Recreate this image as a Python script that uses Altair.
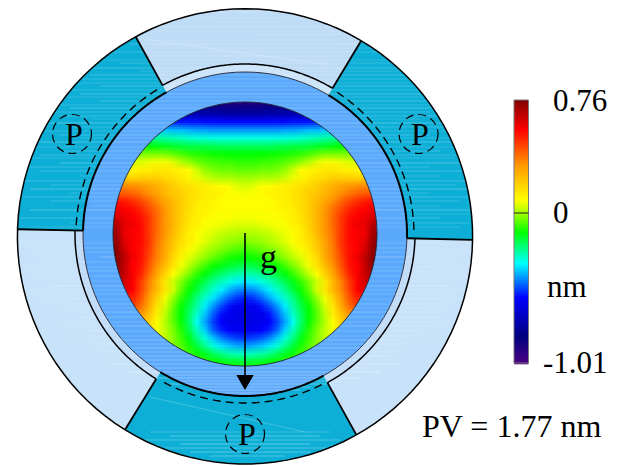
import altair as alt
import numpy as np
import pandas as pd

CX, CY = 245, 234
R_OUT, R_BAND, R_RING, R_MAP = 227.6, 170, 162, 132
CY_OUT = 236.4
LIGHT_TOP, LIGHT_LOW, TEAL, RING_BLUE = "#bfdcf7", "#c8e2fa", "#0dafd7", "#5aa9fc"

# wavefront height (nm), one row per image line, centre column outward (picture is close to mirror symmetric)
MAP_ROWS_Y = list(range(98, 371, 8))
MAP_ROWS = [
 [-1.0,-1.0,-1.0,-1.0],
 [-.88,-.88,-.87,-.87,-.86,-.86,-.85,-.85],
 [-.74,-.74,-.74,-.73,-.73,-.72,-.72,-.71,-.71,-.70],
 [-.56,-.56,-.56,-.56,-.56,-.56,-.55,-.55,-.55,-.54,-.53],
 [-.43,-.43,-.43,-.43,-.43,-.42,-.42,-.41,-.40,-.40,-.39,-.38,-.37],
 [-.32,-.32,-.32,-.32,-.32,-.31,-.31,-.30,-.29,-.28,-.27,-.26,-.25,-.23],
 [-.21,-.21,-.21,-.21,-.20,-.20,-.19,-.19,-.18,-.17,-.16,-.15,-.13,-.11],
 [-.13,-.13,-.13,-.12,-.12,-.11,-.10,-.09,-.07,-.05,-.03,-.03,-.03,-.03,-.03],
 [-.09,-.09,-.08,-.08,-.07,-.06,-.04,-.01,.02,.06,.08,.08,.07,.06,.05,.05],
 [-.05,-.05,-.04,-.04,-.03,-.01,.04,.085,.10,.12,.13,.13,.12,.11,.10,.10],
 [.0,.0,.01,.01,.02,.04,.07,.10,.13,.15,.17,.19,.19,.19,.18,.18,.18],
 [.05,.06,.085,.09,.10,.11,.13,.15,.17,.20,.23,.26,.29,.31,.33,.34,.34],
 [.08,.085,.09,.10,.11,.12,.14,.16,.19,.21,.25,.29,.33,.37,.40,.42,.42],
 [.09,.09,.09,.09,.095,.11,.13,.15,.19,.24,.29,.34,.40,.45,.49,.52,.54,.56],
 [.09,.09,.09,.09,.095,.10,.12,.15,.19,.25,.31,.38,.44,.50,.54,.56,.58,.60],
 [.08,.08,.085,.085,.09,.095,.11,.14,.19,.25,.32,.39,.47,.53,.56,.58,.63,.66],
 [.05,.05,.06,.07,.08,.085,.10,.13,.18,.25,.32,.39,.47,.54,.57,.59,.68,.70],
 [.01,.01,.02,.03,.05,.07,.09,.12,.17,.24,.31,.38,.47,.54,.56,.58,.70,.72],
 [-.03,-.02,-.01,.01,.03,.06,.085,.11,.15,.21,.29,.37,.47,.54,.56,.60,.72,.74],
 [-.08,-.07,-.05,-.03,-.01,.02,.06,.09,.13,.20,.28,.36,.46,.53,.56,.62,.73,.75],
 [-.13,-.12,-.11,-.08,-.05,-.02,.02,.06,.10,.17,.27,.35,.44,.53,.57,.66,.74,.76],
 [-.20,-.19,-.17,-.15,-.12,-.08,-.03,.02,.08,.14,.23,.32,.42,.52,.56,.64,.74],
 [-.28,-.27,-.25,-.22,-.18,-.14,-.09,-.03,.03,.09,.18,.28,.39,.50,.56,.64,.72],
 [-.36,-.35,-.32,-.29,-.25,-.20,-.15,-.09,-.03,.04,.13,.24,.35,.46,.55,.62,.70],
 [-.45,-.44,-.40,-.35,-.30,-.25,-.18,-.12,-.05,.05,.14,.24,.34,.45,.55,.60],
 [-.54,-.52,-.48,-.42,-.36,-.30,-.24,-.16,-.09,-.01,.08,.18,.30,.42,.50],
 [-.60,-.59,-.55,-.50,-.43,-.35,-.27,-.19,-.12,-.04,.05,.14,.27,.38,.46],
 [-.62,-.61,-.59,-.55,-.48,-.39,-.30,-.21,-.13,-.06,.03,.11,.22,.32],
 [-.62,-.61,-.60,-.57,-.51,-.42,-.33,-.22,-.12,-.05,.02,.09,.18,.26],
 [-.60,-.59,-.57,-.54,-.48,-.38,-.29,-.19,-.10,-.03,.03,.08,.14],
 [-.52,-.51,-.49,-.45,-.39,-.31,-.24,-.15,-.08,-.02,.03,.06,.09],
 [-.42,-.41,-.39,-.36,-.31,-.25,-.18,-.11,-.06,-.02,.01,.03],
 [-.29,-.28,-.27,-.24,-.20,-.16,-.12,-.08,-.05,-.03],
 [-.17,-.17,-.16,-.14,-.12,-.10,-.08,-.06],
 [-.10,-.10,-.09,-.08],
]

COLOR_STOPS = [-1.01, -0.83, -0.57, -0.34, -0.13, 0.0, 0.087, 0.32, 0.56, 0.76]
COLOR_RANGE = ["#4b0082", "#00007f", "#0000ff", "#00ffff", "#00ff00", "#a5ff00", "#ffff00", "#ff9900", "#ff0000", "#800000"]

# ring sectors: start and end angle (degrees clockwise from north), colour
SECT_A = [331, 31, 91.5, 151, 211.5, 271.2]
SECT_B = [391, 91.5, 151, 211.5, 271.2, 331]
SECT_COL = [LIGHT_TOP, TEAL, LIGHT_LOW, TEAL, LIGHT_LOW, TEAL]
BAND_COL = ["#cbe4fa", TEAL, "#c0dcf8", TEAL, "#c0dcf8", TEAL]

# light brushed streaks: y, from x, to x, strength
ST_Y = [12,18,22,27,31,34,40,44,48,52,56,60,63,68,71,75,79,83,86,90,94,97,101,105,108,112,116,119,123,127,131,135,138,142,147,151,155,158,163,167,171,176,181,185,189,193,197,201,206,210,214,218,223,227,243,248,252,257,262,267,271,276,281,286,290,294,299,304,308,312,317,322,326,331,336,340,344,348,352,356,360,364,368,372,375,378,381,384,387,390,393,432,436,440,444,448,452,456]
ST_X0 = [190,150,220,160,120,260,140,130,210,100,150,90,120,60,140,90,70,60,100,50,80,60,100,50,70,40,60,90,40,70,30,60,80,30,20,60,40,30,60,20,40,80,25,50,30,70,20,50,90,30,400,20,70,30,20,70,30,100,40,20,80,30,60,50,30,90,40,70,60,100,80,60,100,90,60,110,90,130,100,120,140,110,140,130,170,150,180,170,190,200,215,150,170,140,180,165,190,210]
ST_X1 = [300,340,280,350,370,380,330,360,400,390,340,410,420,430,400,440,460,410,440,470,450,430,470,440,470,430,460,420,470,450,470,430,475,460,470,440,475,455,470,430,475,440,470,455,475,430,470,460,440,475,470,440,470,460,470,440,470,420,460,470,430,470,440,450,470,420,460,440,450,420,440,450,430,420,440,400,410,380,400,390,370,400,370,380,340,360,340,330,310,300,280,330,320,340,310,330,310,285]
ST_OP = [.2,.14,.2,.14,.17,.2,.14,.2,.14,.17,.2,.14,.17,.2,.14,.2,.17,.14,.2,.17,.25,.14,.2,.14,.25,.17,.2,.14,.25,.17,.14,.2,.17,.25,.14,.2,.17,.14,.25,.17,.2,.14,.2,.17,.25,.14,.2,.17,.14,.25,.14,.2,.17,.14,.17,.2,.14,.25,.17,.14,.2,.17,.14,.25,.17,.2,.14,.2,.17,.25,.2,.17,.25,.2,.17,.25,.2,.3,.2,.25,.3,.25,.3,.35,.3,.35,.3,.35,.3,.35,.3,.2,.3,.25,.3,.25,.3,.25]

P_X, P_Y = [72, 418.5, 245], [134, 134, 434]
TXT = ["P", "P", "P", "g", "0.76", "0", "nm", "-1.01", "PV = 1.77 nm"]
TXT_X = [65, 411, 238, 260, 553, 553, 547, 543, 422]
TXT_Y = [145, 145, 445, 268, 111, 223, 297, 373, 437]
TXT_S = [32, 32, 32, 34, 31, 31, 31, 31, 32]

xs = alt.Scale(domain=[8, 614], nice=False, zero=False)
ys = alt.Scale(domain=[8, 466], nice=False, zero=False, reverse=True)
X = lambda f: alt.X(f, type="quantitative", scale=xs, axis=None)
Y = lambda f: alt.Y(f, type="quantitative", scale=ys, axis=None)
heat_scale = alt.Scale(domain=COLOR_STOPS, range=COLOR_RANGE, interpolate="rgb")
HEAT = alt.Color("value:Q", scale=heat_scale, legend=None)

cells = []
for y, row in zip(MAP_ROWS_Y, MAP_ROWS):
    padded = row + [row[-1]] * 2
    for k, v in enumerate(padded):
        for sgn in ([1] if k == 0 else [1, -1]):
            cells.append({"cx": CX + sgn * 8 * k, "cy": y, "value": v})
cells = pd.DataFrame(cells)

def heat(dx, dy, op):
    d = pd.DataFrame({"x": cells.cx - 4 + dx, "x2": cells.cx + 4 + dx,
                      "y": cells.cy - 4 + dy, "y2": cells.cy + 4 + dy, "value": cells.value})
    return alt.Chart(d).mark_rect(opacity=op, strokeWidth=0).encode(
        x=X("x"), x2="x2", y=Y("y"), y2="y2", color=HEAT)

def arcs(a, b, r0, r1, col, cy=CY):
    d = pd.DataFrame({"x": CX, "y": cy, "t0": np.radians(a), "t1": np.radians(b),
                      "r0": r0, "r1": r1, "col": col})
    return alt.Chart(d).mark_arc(strokeWidth=0).encode(
        x=X("x"), y=Y("y"),
        theta=alt.Theta("t0:Q", scale=None, stack=None), theta2="t1",
        radius=alt.Radius("r1:Q", scale=None), radius2="r0",
        fill=alt.Fill("col:N", scale=None))

def curve(a, b, r, width=1.5, col="black", dash=None, cy=CY):
    t = np.radians(np.linspace(a, b, 120))
    d = pd.DataFrame({"x": CX + r * np.sin(t), "y": cy - r * np.cos(t), "i": range(120)})
    kw = {"strokeDash": dash} if dash else {}
    return alt.Chart(d).mark_line(color=col, strokeWidth=width, **kw).encode(
        x=X("x"), y=Y("y"), order="i:Q")

OFF = CY_OUT - CY

def spoke(a, r0=R_BAND):
    t = np.radians(a)
    r1 = R_OUT - OFF * np.cos(t)
    d = pd.DataFrame({"x": [CX + r0*np.sin(t)], "y": [CY - r0*np.cos(t)],
                      "x2": [CX + r1*np.sin(t)], "y2": [CY - r1*np.cos(t)]})
    return alt.Chart(d).mark_rule(color="black", strokeWidth=1.8).encode(
        x=X("x"), y=Y("y"), x2="x2", y2="y2")

def seen_from_outer_centre(a):
    t = np.radians(a)
    t2 = np.arctan2(200 * np.sin(t), 200 * np.cos(t) + OFF)
    return a + np.degrees((t2 - t + np.pi) % (2 * np.pi) - np.pi)

# streaks stop at the edge of the measured disc
rows = []
for y, a, b, o in zip(ST_Y, ST_X0, ST_X1, ST_OP):
    dy = abs(y - CY)
    if dy >= R_MAP:
        rows.append((y, a, b, o))
    else:
        h = (R_MAP**2 - dy**2) ** .5
        if a < CX - h:
            rows.append((y, a, min(b, CX - h), o))
        if b > CX + h:
            rows.append((y, max(a, CX + h), b, o))
streaks = pd.DataFrame(rows, columns=["y", "x", "x2", "o"])
streak_layer = alt.Chart(streaks).mark_rule(color="white", strokeWidth=1).encode(
    x=X("x"), x2="x2", y=Y("y"), opacity=alt.Opacity("o:Q", scale=None))

diag = pd.DataFrame({"x": [150, 150], "x2": [305, 330], "y": [397, 40], "y2": [432, 65]})
diag_layer = alt.Chart(diag).mark_rule(color="white", strokeWidth=1, opacity=.22).encode(
    x=X("x"), x2="x2", y=Y("y"), y2="y2")

# colour bar
bar_edges = np.arange(100, 363, 2)
bar_val = np.interp(bar_edges + 1, [100, 213, 363], [0.76, 0, -1.01])
bar = alt.Chart(pd.DataFrame({"x": 514, "x2": 528.5, "y": bar_edges, "y2": bar_edges + 2.3, "value": bar_val})
    ).mark_rect(strokeWidth=0).encode(x=X("x"), x2="x2", y=Y("y"), y2="y2", color=HEAT)
bar_frame = alt.Chart(pd.DataFrame({"x": [514], "x2": [528.5], "y": [100], "y2": [363]})
    ).mark_rect(fillOpacity=0, stroke="#777", strokeWidth=1).encode(x=X("x"), x2="x2", y=Y("y"), y2="y2")
bar_tick = alt.Chart(pd.DataFrame({"x": [514], "x2": [528.5], "y": [213]})
    ).mark_rule(color="#222", strokeWidth=1).encode(x=X("x"), x2="x2", y=Y("y"))

# gravity arrow
arrow = alt.Chart(pd.DataFrame({"x": [CX], "y": [233], "y2": [376]})).mark_rule(
    color="black", strokeWidth=1.6).encode(x=X("x"), y=Y("y"), y2="y2")
head = alt.Chart(pd.DataFrame({"x": [CX], "y": [382.5]})).mark_point(
    shape="triangle-down", filled=True, color="black", opacity=1, size=300).encode(x=X("x"), y=Y("y"))

circles = alt.Chart(pd.DataFrame({"x": P_X, "y": P_Y})).mark_point(
    shape="circle", filled=False, color="black", opacity=1, size=1520, strokeWidth=1.2,
    strokeDash=[8, 5]).encode(x=X("x"), y=Y("y"))

labels = [alt.Chart(pd.DataFrame({"x": [x], "y": [y], "t": [t]})).mark_text(
    font="Liberation Serif", fontSize=s, align="left", baseline="alphabetic", color="black"
    ).encode(x=X("x"), y=Y("y"), text="t:N")
    for t, x, y, s in zip(TXT, TXT_X, TXT_Y, TXT_S)]

OFFSETS = [(-3, -3), (-1, -3), (1, -3), (3, -3), (-3, -1), (-1, -1), (1, -1), (3, -1),
           (-3, 1), (-1, 1), (1, 1), (3, 1), (-3, 3), (-1, 3), (1, 3), (3, 3)]
heat_layers = [heat(dx, dy, 1 / (i + 1)) for i, (dx, dy) in enumerate(OFFSETS)]

sa = [seen_from_outer_centre(a) for a in SECT_A]
sb = [seen_from_outer_centre(b % 360) + (360 if b >= 360 else 0) for b in SECT_B]

layers = heat_layers + [
    arcs(sa, sb, [140]*6, [R_OUT]*6, SECT_COL, cy=CY_OUT),
    arcs(SECT_A, SECT_B, [R_RING]*6, [R_BAND]*6, BAND_COL),
    arcs([0], [360], [R_MAP], [R_RING], [RING_BLUE]),
    streak_layer, diag_layer,
    curve(0, 360, R_OUT, cy=CY_OUT), curve(0, 360, R_MAP, .9, "#223"),
    curve(0, 360, R_RING, 1, "#334"),
    curve(331, 391, R_BAND), curve(91.5, 151, R_BAND), curve(211.5, 271.2, R_BAND),
    curve(271.2, 331, R_RING, 2), curve(31, 91.5, R_RING, 2), curve(151, 211.5, R_RING, 2),
    curve(273, 329, R_BAND - 1, 1.4, dash=[8, 5]), curve(33, 90, R_BAND - 1, 1.4, dash=[8, 5]),
    curve(153, 209, R_BAND - 1, 1.4, dash=[8, 5]),
    spoke(331), spoke(31), spoke(91.5, R_RING), spoke(151), spoke(211.5), spoke(271.2, R_RING),
    bar, bar_frame, bar_tick, arrow, head, circles] + labels

chart = alt.layer(*layers).properties(
    width=606, height=458, padding=0, background="white",
    autosize=alt.AutoSizeParams(type="none")
).configure_view(stroke=None)
chart.save("out.html", embed_options={"renderer": "svg", "actions": False})
